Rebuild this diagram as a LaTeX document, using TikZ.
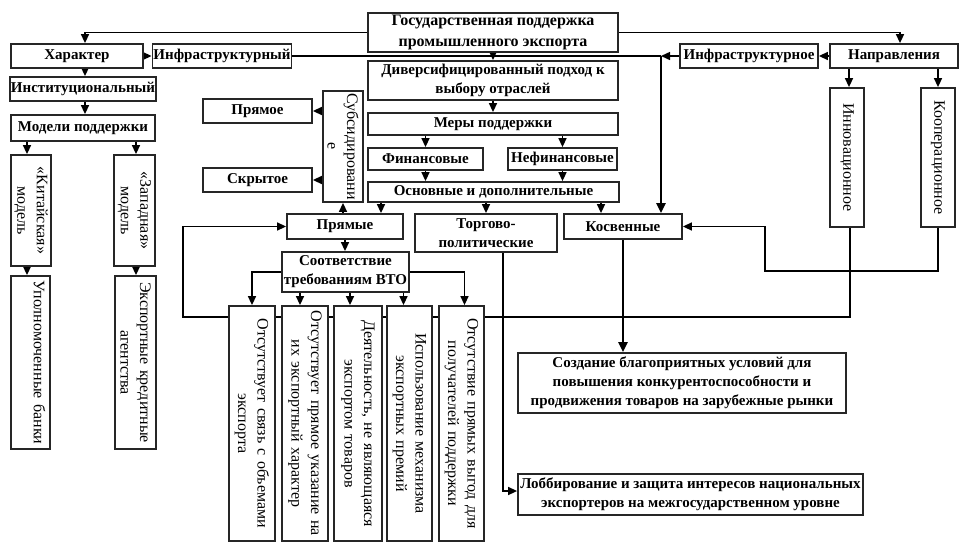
\documentclass[tikz,border=0pt]{standalone}
\usepackage{fontspec}
\setmainfont{Liberation Serif}
\usetikzlibrary{arrows.meta}
\pgfdeclarelayer{bg}
\pgfsetlayers{bg,main}
\begin{document}
\begin{tikzpicture}[x=1pt,y=-1pt,
 box/.style={draw=black!85, line width=1.8pt, fill=white, inner sep=1pt, align=center, font=\bfseries\fontsize{15}{19}\selectfont},
 vbox/.style={draw=black!85, line width=1.8pt, fill=white},
 vtext/.style={rotate=-90, align=center, inner sep=0pt, font=\fontsize{16}{19.5}\selectfont},
 arr/.style={line width=1.5pt, -{Triangle[length=9pt,width=8pt]}},
 ln/.style={line width=1.5pt},
 thk/.style={line width=2.8pt, -{Triangle[length=10pt,width=9pt]}}]
\useasboundingbox (0,0) rectangle (968,549);
% centre column
\node[box, minimum width=250pt, minimum height=39pt, font=\bfseries\fontsize{16}{21}\selectfont] (title) at (493,32.5) {Государственная поддержка\\промышленного экспорта};
\node[box, minimum width=250pt, minimum height=39pt] (div) at (493,80.5) {Диверсифицированный подход к\\выбору отраслей};
\node[box, minimum width=250pt, minimum height=22pt] (mery) at (493,124) {Меры поддержки};
\node[box, minimum width=115pt, minimum height=22pt] (fin) at (425.5,159) {Финансовые};
\node[box, minimum width=109pt, minimum height=22pt] (nefin) at (562.5,159) {Нефинансовые};
\node[box, minimum width=251pt, minimum height=20pt] (osn) at (493.5,192) {Основные и дополнительные};
\node[vbox, minimum width=40pt, minimum height=111pt] (subs) at (343,146.5) {};
\node[vtext, text width=108pt] (subst) at (subs) {Субсидировани\\е};
\node[box, minimum width=109pt, minimum height=24pt] (pryamoe) at (257.5,111) {Прямое};
\node[box, minimum width=109pt, minimum height=24pt] (skrytoe) at (257.5,180) {Скрытое};
\node[box, minimum width=116pt, minimum height=25pt] (pryamye) at (345,226.5) {Прямые};
\node[box, minimum width=142pt, minimum height=38pt] (torg) at (486,233) {Торгово-\\политические};
\node[box, minimum width=118pt, minimum height=25pt] (kosv) at (623,226.5) {Косвенные};
\node[box, minimum width=127pt, minimum height=40pt] (sootv) at (345.5,272) {Соответствие\\требованиям ВТО};
\node[vbox, minimum width=46pt, minimum height=235pt] (v1) at (252,423.5) {};
\node[vbox, minimum width=46pt, minimum height=235pt] (v2) at (305,423.5) {};
\node[vbox, minimum width=48pt, minimum height=235pt] (v3) at (358,423.5) {};
\node[vbox, minimum width=45pt, minimum height=235pt] (v4) at (409.5,423.5) {};
\node[vbox, minimum width=45pt, minimum height=235pt] (v5) at (461.5,423.5) {};
\node[vtext, text width=234pt] (v1t) at (v1) {Отсутствует связь с объемами\\экспорта};
\node[vtext, text width=234pt] (v2t) at (v2) {Отсутствует прямое указание на\\их экспортный характер};
\node[vtext, text width=234pt] (v3t) at (v3) {Деятельность, не являющаяся\\экспортом товаров};
\node[vtext, text width=234pt] (v4t) at (v4) {Использование механизма\\экспортных премий};
\node[vtext, text width=234pt] (v5t) at (v5) {Отсутствие прямых выгод для\\получателей поддержки};
\node[box, minimum width=328pt, minimum height=60pt] (sozd) at (682,383) {Создание благоприятных условий для\\повышения конкурентоспособности и\\продвижения товаров на зарубежные рынки};
\node[box, minimum width=345pt, minimum height=41pt] (lobb) at (690.5,494.5) {Лоббирование и защита интересов национальных\\экспортеров на межгосударственном уровне};
% left column
\node[box, minimum width=132pt, minimum height=24pt] (har) at (77,56) {Характер};
\node[box, minimum width=138pt, minimum height=24pt] (infrny) at (222,56) {Инфраструктурный};
\node[box, minimum width=144pt, minimum height=24pt] (inst) at (83,89) {Институциональный};
\node[box, minimum width=144pt, minimum height=26pt] (model) at (83,128) {Модели поддержки};
\node[vbox, minimum width=40pt, minimum height=111pt] (kit) at (31,210.5) {};
\node[vbox, minimum width=41pt, minimum height=111pt] (zap) at (134.5,210.5) {};
\node[vbox, minimum width=39pt, minimum height=173pt] (upoln) at (30.5,362.5) {};
\node[vbox, minimum width=41pt, minimum height=173pt] (eka) at (135.5,362.5) {};
\node[vtext, text width=108pt] (kitt) at (kit) {«Китайская»\\модель};
\node[vtext, text width=108pt] (zapt) at (zap) {«Западная»\\модель};
\node[vtext, text width=170pt] (upolnt) at ([xshift=9pt]upoln.center) {Уполномоченные банки};
\node[vtext, text width=170pt] (ekat) at (eka) {Экспортные кредитные\\агентства};
% right column
\node[box, minimum width=138pt, minimum height=24pt] (infrnoe) at (749,56) {Инфраструктурное};
\node[box, minimum width=128pt, minimum height=24pt] (napr) at (894,56) {Направления};
\node[vbox, minimum width=34pt, minimum height=139pt] (innov) at (847,157.5) {};
\node[vbox, minimum width=34pt, minimum height=139pt] (koop) at (938,157.5) {};
\node[vtext, text width=135pt] (innovt) at (innov) {Инновационное};
\node[vtext, text width=135pt] (koopt) at (koop) {Кооперационное};
% helper coordinates
\coordinate (jk) at ([xshift=38pt]kosv.north |- infrnoe.west);
\coordinate (b1) at (765,271);
\coordinate (b2) at (183,317);
\coordinate (pa) at ([xshift=36pt]pryamye.north);
\coordinate (ka) at ([xshift=-22pt]kosv.north);
\coordinate (kb) at ([xshift=38pt]kosv.north);
\begin{pgfonlayer}{bg}
\draw[arr] (title.west) -| ([xshift=8pt]har.north);
\draw[arr] (title.east) -| ([xshift=6pt]napr.north);
\draw[arr] (title.south) -- (div.north);
\draw[arr] (div.south) -- (mery.north);
\draw[arr] (mery.south -| fin.north) -- (fin.north);
\draw[arr] (mery.south -| nefin.north) -- (nefin.north);
\draw[arr] (fin.south) -- (fin.south |- osn.north);
\draw[arr] (nefin.south) -- (nefin.south |- osn.north);
\draw[arr] (pa |- osn.south) -- (pa);
\draw[arr] (torg.north |- osn.south) -- (torg.north);
\draw[arr] (ka |- osn.south) -- (ka);
\draw[arr] (subs.south |- pryamye.north) -- (subs.south);
\draw[arr] (pryamoe.east -| subs.west) -- (pryamoe.east);
\draw[arr] (skrytoe.east -| subs.west) -- (skrytoe.east);
\draw[arr] (pryamye.south) -- (pryamye.south |- sootv.north);
\draw[arr] (sootv.west) -| (v1.north);
\draw[arr] ([xshift=-5pt]v2.north |- sootv.south) -- ([xshift=-5pt]v2.north);
\draw[arr] ([xshift=-8pt]v3.north |- sootv.south) -- ([xshift=-8pt]v3.north);
\draw[arr] ([xshift=-6pt]v4.north |- sootv.south) -- ([xshift=-6pt]v4.north);
\draw[arr] (sootv.east) -| ([xshift=3pt]v5.north);
\draw[thk] (kosv.south) -- (kosv.south |- sozd.north);
\draw[arr] ([xshift=17pt]torg.south) |- ([yshift=3.5pt]lobb.west);
\draw[arr] (infrnoe.west) -- (jk);
\draw[ln] (infrny.east) -- (jk);
\draw[thk] (jk) -- (kb);
\draw[arr] (napr.west) -- (infrnoe.east);
\draw[arr] (har.east) -- (infrny.west);
\draw[arr] ([xshift=2pt]inst.north |- har.south) -- ([xshift=2pt]inst.north);
\draw[arr] ([xshift=2pt]inst.south) -- ([xshift=2pt]model.north);
\draw[arr] ([xshift=-4pt]kit.north |- model.south) -- ([xshift=-4pt]kit.north);
\draw[arr] ([xshift=1.5pt]zap.north |- model.south) -- ([xshift=1.5pt]zap.north);
\draw[arr] ([xshift=-4pt]kit.south) -- ([xshift=-4pt]kit.south |- upoln.north);
\draw[arr] ([xshift=1.5pt]zap.south) -- ([xshift=1.5pt]zap.south |- eka.north);
\draw[arr] ([xshift=2pt]innov.north |- napr.south) -- ([xshift=2pt]innov.north);
\draw[arr] (koop.north |- napr.south) -- (koop.north);
\draw[arr] (koop.south) |- (b1) |- (kosv.east);
\draw[arr] ([xshift=3pt]innov.south) |- (b2) |- (pryamye.west);
\end{pgfonlayer}
\end{tikzpicture}
\end{document}
